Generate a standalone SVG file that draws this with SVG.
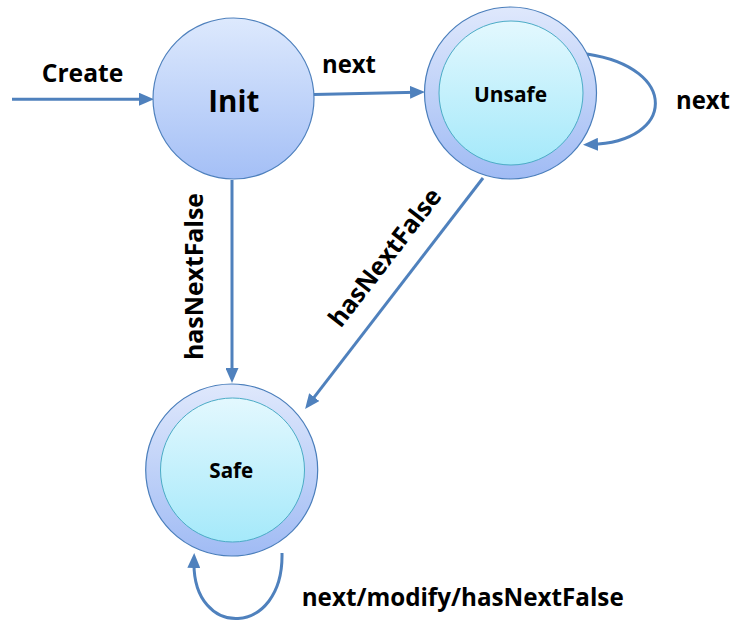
<svg xmlns="http://www.w3.org/2000/svg" width="733" height="621" viewBox="0 0 733 621">
<style>
.lbl{font-family:"Open Sans","Liberation Sans",sans-serif;font-weight:bold;fill:#000}
.edge{fill:none;stroke:#4f81bd;stroke-width:3}
.outer{fill:url(#gOuter);stroke:#4a7ebb;stroke-width:1.2}
.inner{fill:url(#gInner);stroke:#4bacc6;stroke-width:1}
</style>
<defs>
<linearGradient id="gInit" x1="0" y1="0" x2="0" y2="1">
<stop offset="0" stop-color="#dde9fd"/>
<stop offset="1" stop-color="#a4bff6"/>
</linearGradient>
<linearGradient id="gOuter" x1="0" y1="0" x2="0" y2="1">
<stop offset="0" stop-color="#dfe8fc"/>
<stop offset="1" stop-color="#a0bbf4"/>
</linearGradient>
<linearGradient id="gInner" x1="0" y1="0" x2="0" y2="1">
<stop offset="0" stop-color="#e3f8fe"/>
<stop offset="1" stop-color="#a5e9fa"/>
</linearGradient>
<marker id="arr" viewBox="0 0 15 13" refX="7" refY="6.5" markerWidth="15" markerHeight="13" markerUnits="userSpaceOnUse" orient="auto">
<path d="M0,0 L15,6.5 L0,13 z" fill="#4f81bd"/>
</marker>
</defs>
<g id="connectors">
<path class="edge" d="M12,99.3 L146,99.2" marker-end="url(#arr)"/>
<path class="edge" d="M314,94.5 L417,92.2" marker-end="url(#arr)"/>
<path class="edge" d="M232,180 L232,375" marker-end="url(#arr)"/>
<path class="edge" d="M483,178 L310,402.7" marker-end="url(#arr)"/>
<path class="edge" d="M587,54 C680,68 675,142 591,144.5" marker-end="url(#arr)"/>
<path class="edge" d="M282,553 C284,638 192,640 194,561" marker-end="url(#arr)"/>
<text class="lbl" x="41.7" y="81.7" font-size="25" textLength="81.6" lengthAdjust="spacingAndGlyphs">Create</text>
<text class="lbl" x="322" y="73.3" font-size="25" textLength="54" lengthAdjust="spacingAndGlyphs">next</text>
<text class="lbl" x="676" y="109" font-size="25" textLength="54" lengthAdjust="spacingAndGlyphs">next</text>
<text class="lbl" font-size="25" x="-83.5" y="0" textLength="167" lengthAdjust="spacingAndGlyphs" transform="translate(203.3,276.5) rotate(-90)">hasNextFalse</text>
<text class="lbl" font-size="25" x="-83.5" y="0" textLength="167" lengthAdjust="spacingAndGlyphs" transform="translate(391.7,262.7) rotate(-52.4)">hasNextFalse</text>
<text class="lbl" x="301.7" y="606" font-size="25" textLength="322" lengthAdjust="spacingAndGlyphs">next/modify/hasNextFalse</text>
</g>
<g id="init">
<circle cx="233.5" cy="98.5" r="80.5" fill="url(#gInit)" stroke="#4f81bd" stroke-width="1.2"/>
<text class="lbl" x="208.3" y="111.7" font-size="31" textLength="51" lengthAdjust="spacingAndGlyphs">Init</text>
</g>
<g id="unsafe">
<circle class="outer" cx="510.5" cy="93" r="86"/>
<circle class="inner" cx="511" cy="93" r="72"/>
<text class="lbl" x="474" y="101.7" font-size="22" textLength="73" lengthAdjust="spacingAndGlyphs">Unsafe</text>
</g>
<g id="safe">
<circle class="outer" cx="231.7" cy="470" r="86"/>
<circle class="inner" cx="232.5" cy="470" r="72"/>
<text class="lbl" x="209.3" y="478" font-size="22" textLength="44" lengthAdjust="spacingAndGlyphs">Safe</text>
</g>
</svg>
